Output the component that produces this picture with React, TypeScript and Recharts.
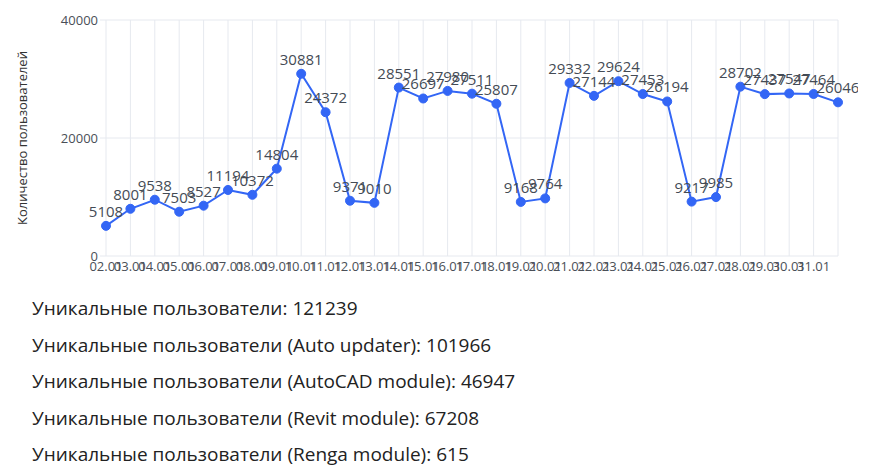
import React from "react";
import {
  LineChart,
  Line,
  XAxis,
  YAxis,
  CartesianGrid,
  LabelList,
  Label,
} from "recharts";

const dates: string[] = [
  "02.01", "03.01", "04.01", "05.01", "06.01", "07.01", "08.01", "09.01",
  "10.01", "11.01", "12.01", "13.01", "14.01", "15.01", "16.01", "17.01",
  "18.01", "19.01", "20.01", "21.01", "22.01", "23.01", "24.01", "25.01",
  "26.01", "27.01", "28.01", "29.01", "30.01", "31.01", "01.02",
];

const users: number[] = [
  5108, 8001, 9538, 7503, 8527, 11194, 10372, 14804, 30881, 24372, 9371,
  9010, 28551, 26697, 27980, 27511, 25807, 9168, 9764, 29332, 27144, 29624,
  27453, 26194, 9217, 9985, 28702, 27437, 27547, 27464, 26046,
];

// last date has no tick label in the original
const shownTicks: string[] = dates.slice(0, 30);

const yTicks: number[] = [0, 20000, 40000];

const summaryLabels: string[] = [
  "Уникальные пользователи",
  "Уникальные пользователи (Auto updater)",
  "Уникальные пользователи (AutoCAD module)",
  "Уникальные пользователи (Revit module)",
  "Уникальные пользователи (Renga module)",
];
const summaryValues: number[] = [121239, 101966, 46947, 67208, 615];

const FONT = "'Open Sans', 'Noto Sans', sans-serif";

const data = dates.map((d, i) => ({ date: d, users: users[i] }));

const App: React.FC = () => {
  return (
    <div style={{ fontFamily: FONT }}>
      <LineChart
        width={850}
        height={276}
        data={data}
        margin={{ top: 12, right: 20, bottom: 0, left: 38 }}
      >
        <CartesianGrid stroke="#e6e9ef" strokeWidth={1} />
        <XAxis
          dataKey="date"
          ticks={shownTicks}
          interval={0}
          axisLine={false}
          tickLine={false}
          tick={{ fill: "#4a4f57", fontSize: 13, fontFamily: FONT }}
          tickMargin={0}
          height={28}
        />
        <YAxis
          domain={[0, 40000]}
          ticks={yTicks}
          width={60}
          axisLine={false}
          tickLine={{ stroke: "#e6e9ef" }}
          tickSize={6}
          tick={{ fill: "#4a4f57", fontSize: 13, fontFamily: FONT }}
        >
          <Label
            value="Количество пользователей"
            angle={-90}
            position="insideLeft"
            offset={-24}
            style={{ fill: "#333", fontSize: 13, fontFamily: FONT, textAnchor: "middle" }}
          />
        </YAxis>
        <Line
          type="linear"
          dataKey="users"
          stroke="#3366f5"
          strokeWidth={2}
          dot={{ r: 4.5, fill: "#3366f5", stroke: "#3366f5", strokeWidth: 1 }}
          isAnimationActive={false}
        >
          <LabelList
            dataKey="users"
            position="top"
            offset={9}
            style={{ fill: "#444b55", fontSize: 15, fontFamily: FONT }}
          />
        </Line>
      </LineChart>
      <div style={{ paddingLeft: 24, marginTop: 6, color: "#222" }}>
        {summaryLabels.map((s, i) => (
          <div key={s} style={{ fontSize: 19, lineHeight: "36.6px" }}>
            {s}: {summaryValues[i]}
          </div>
        ))}
      </div>
    </div>
  );
};

export default App;
